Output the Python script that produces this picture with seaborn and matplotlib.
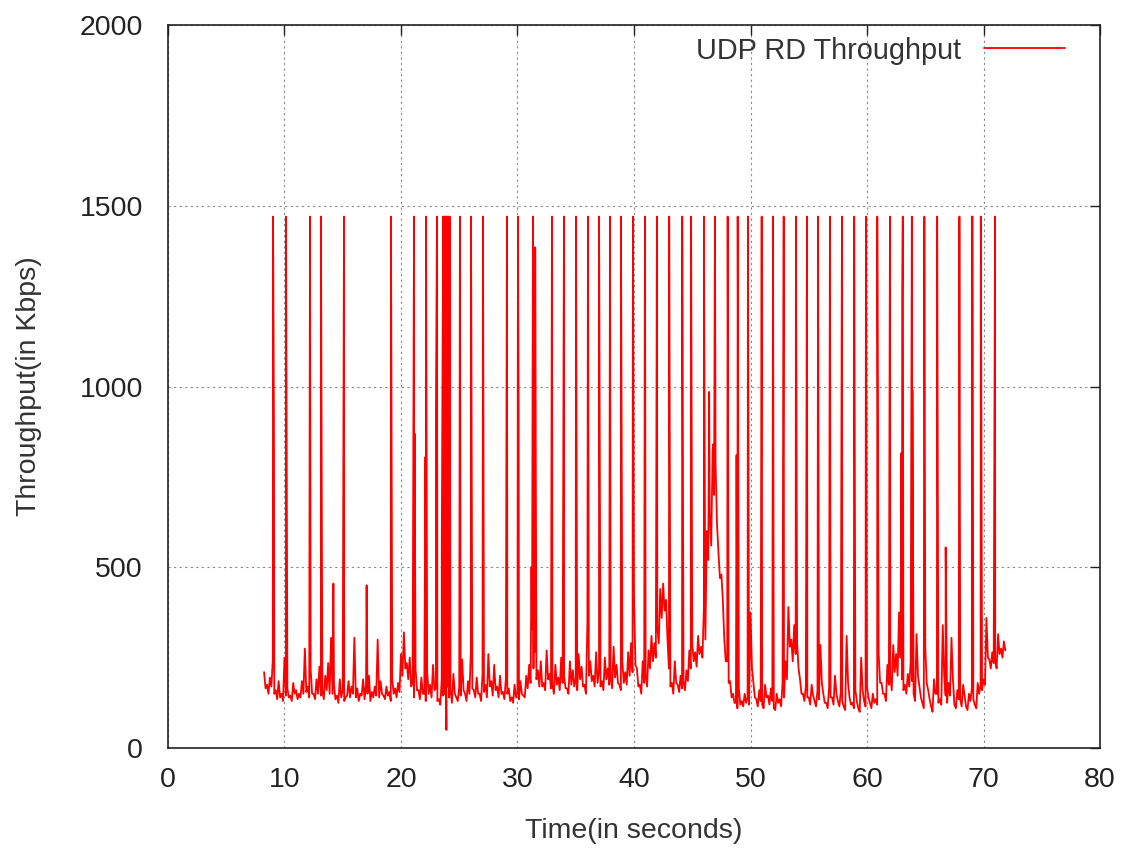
import numpy as np
import pandas as pd
import matplotlib
matplotlib.use("Agg")
import matplotlib.pyplot as plt
import seaborn as sns

# baseline throughput, one value every 0.25 s, starting at 8.25 s (Kbps)
base_start = 8.25
base_step = 0.25
baseline = [
    210, 175, 195,
    245, 160, 185, 150,
    250, 165, 145, 180,
    160, 150, 185, 275,
    170, 215, 150, 190,
    225, 160, 200, 235,
    305, 175, 145, 190,
    160, 140, 185, 170,
    305, 165, 150, 190,
    175, 200, 155, 170,
    300, 185, 145, 170,
    155, 190, 165, 180,
    260, 320, 235, 250,
    180, 220, 160, 195,
    150, 210, 175, 230,
    165, 135, 190, 175,
    185, 160, 205, 140,
    170, 245, 150, 185,
    270, 160, 195, 150,
    205, 175, 260, 185,
    230, 170, 200, 155,
    190, 165, 140, 175,
    155, 185, 145, 200,
    230, 330, 265, 215,
    240, 180, 270, 205,
    175, 230, 195, 250,
    200, 165, 240, 215,
    190, 260, 225, 175,
    345, 240, 200, 265,
    215, 185, 250, 220,
    195, 280, 230, 175,
    240, 210, 265, 290,
    420, 220, 175, 240,
    200, 270, 310, 290,
    335, 440, 455, 410,
    220, 180, 240, 175,
    200, 185, 215, 270,
    290, 265, 310, 280,
    390, 600, 650, 820,
    790, 540, 480, 300,
    240, 185, 150, 125,
    165, 130, 150, 140,
    375, 180, 135, 160,
    120, 175, 145, 165,
    110, 150, 135, 180,
    240, 390, 300, 340,
    290, 190, 150, 170,
    140, 175, 130, 160,
    285, 150, 125, 170,
    140, 200, 130, 155,
    115, 310, 140, 125,
    160, 110, 250, 130,
    170, 125, 150, 135,
    260, 180, 150, 230,
    200, 285, 260, 375,
    190, 175, 205, 240,
    150, 315, 170, 125,
    280, 160, 115, 190,
    150, 135, 340, 145,
    180, 305, 120, 160,
    135, 175, 115, 150,
    165, 120, 180, 175,
    190, 360, 245, 265,
    240, 315, 275, 295,
]

# in-between samples, 0.125 s after each baseline sample (Kbps)
dips = [
    165, 150, 170,
    150, 135, 140, 130,
    145, 140, 130, 150,
    135, 140, 150, 155,
    140, 150, 135, 150,
    145, 135, 160, 150,
    150, 135, 125, 140,
    130, 145, 140, 150,
    140, 130, 145, 135,
    150, 130, 140, 145,
    140, 150, 135, 145,
    130, 150, 140, 155,
    200, 220, 190, 170,
    140, 160, 135, 150,
    130, 150, 140, 160,
    130, 120, 145, 150,
    140, 125, 150, 130,
    145, 160, 130, 150,
    165, 140, 150, 130,
    155, 140, 170, 145,
    160, 140, 150, 135,
    150, 130, 125, 140,
    135, 150, 140, 165,
    180, 220, 190, 170,
    170, 160, 190, 165,
    150, 175, 160, 180,
    165, 150, 175, 170,
    160, 190, 170, 150,
    200, 185, 170, 180,
    170, 160, 190, 175,
    165, 195, 180, 160,
    180, 175, 200, 210,
    230, 170, 150, 180,
    170, 220, 240, 250,
    290, 360, 380, 300,
    170, 150, 180, 155,
    165, 160, 185, 220,
    240, 225, 260, 250,
    300, 520, 560, 700,
    620, 470, 410, 240,
    180, 140, 125, 110,
    120, 115, 125, 120,
    220, 140, 115, 130,
    110, 140, 120, 130,
    105, 125, 115, 140,
    190, 280, 240, 260,
    220, 150, 130, 140,
    120, 145, 115, 135,
    180, 125, 110, 140,
    120, 150, 115, 130,
    105, 180, 120, 110,
    130, 100, 160, 115,
    140, 110, 125, 120,
    180, 150, 130, 175,
    160, 210, 200, 250,
    160, 150, 170, 185,
    130, 200, 140, 110,
    180, 135, 100, 150,
    125, 120, 200, 125,
    145, 190, 110, 135,
    115, 145, 105, 130,
    135, 110, 150, 160,
    175, 250, 220, 235,
    220, 260, 250, 270,
]

# short bursts (single samples) reaching the top level
spike_t = [9.02, 10.13, 12.19, 13.13, 15.11, 19.14, 21.12, 22.15, 23.09,
           25.06, 26.01, 27.04, 29.10, 30.04, 31.33, 32.96, 33.99, 35.02,
           36.05, 37.0, 37.94, 38.88, 39.91, 40.94, 41.97, 43.02, 44.14,
           44.9, 46.0, 46.95, 48.04, 48.9, 49.78, 50.96, 51.93, 52.85,
           53.9, 54.85, 55.8, 56.82, 57.85, 58.9, 59.91, 60.88, 61.97,
           63.07, 63.85, 64.92, 66.02, 67.93, 69.0, 69.06, 69.77, 70.99]
spike_v = [1470] * len(spike_t)

# partial bursts
part_t = [9.1, 14.2, 17.05, 21.17, 22.1, 23.0, 29.05, 30.1, 31.2, 31.38,
          31.42, 31.46, 31.52, 46.45, 46.8, 48.8, 54.8, 56.78, 62.95,
          63.02, 63.9, 66.75]
part_v = [860, 455, 450, 870, 805, 930, 810, 945, 500, 1110,
          560, 1100, 1385, 985, 840, 810, 825, 845, 816,
          1250, 990, 555]

# dense burst cluster around 24 s
cluster_t = [23.5, 23.62, 23.66, 23.70, 23.74, 23.78, 23.82, 23.86, 23.9,
             23.94, 23.98, 24.02, 24.06, 24.1, 24.14, 24.18]
cluster_v = [535, 1470, 200, 1470, 150, 1470, 180, 1470, 50,
             1470, 170, 1470, 210, 1470, 160, 1470]

base_t = [base_start + i * base_step for i in range(len(baseline))]
dip_t = [t + base_step / 2 for t in base_t[:len(dips)]]

df = pd.DataFrame({
    "Time": base_t + dip_t + spike_t + part_t + cluster_t,
    "Throughput": baseline + dips + spike_v + part_v + cluster_v,
}).sort_values("Time").reset_index(drop=True)

sns.set_theme(style="white")
plt.rcParams["font.family"] = ["Liberation Sans", "DejaVu Sans"]

fig = plt.figure(figsize=(11.25, 8.48), dpi=100)
ax = fig.add_axes([0.1493, 0.1179, 0.8285, 0.8526])

sns.lineplot(data=df, x="Time", y="Throughput", estimator=None, sort=True,
             color="#ff0000", linewidth=1.3, label="UDP RD Throughput", ax=ax)

ax.set_xlim(0, 80)
ax.set_ylim(0, 2000)
ax.set_xticks(range(0, 81, 10))
ax.set_yticks(range(0, 2001, 500))
ax.grid(True, color="#888888", linestyle=(0, (2, 3)), linewidth=0.8)
ax.tick_params(direction="in", length=7, width=1, top=True, right=True,
               labelsize=20.5, colors="#222222")
ax.tick_params(axis="x", pad=14)
ax.tick_params(axis="y", pad=18)
for s in ax.spines.values():
    s.set_color("#222222")
    s.set_linewidth(1.2)

ax.set_xlabel("Time(in seconds)", fontsize=20.5, color="#333333", labelpad=18)
ax.set_ylabel("Throughput(in Kbps)", fontsize=20.5, color="#333333", labelpad=27)

leg = ax.legend(loc="upper right", frameon=False, markerfirst=False,
                fontsize=20.8, handlelength=2.8, borderaxespad=0.0,
                bbox_to_anchor=(0.975, 1.0))
for t in leg.get_texts():
    t.set_color("#333333")

fig.savefig("out.png", dpi=100)
